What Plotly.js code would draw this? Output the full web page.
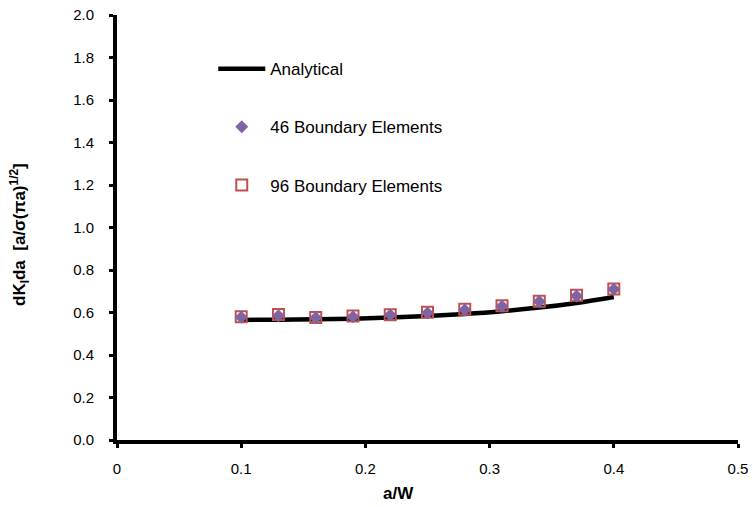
<!DOCTYPE html>
<html>
<head>
<meta charset="utf-8">
<script src="https://cdn.plot.ly/plotly-3.0.1.min.js"></script>
<style>html,body{margin:0;padding:0;background:#fff;}#chart{width:753px;height:507px;}</style>
</head>
<body>
<div id="chart"></div>
<script>
// Data
const analyticalX = [0.10, 0.13, 0.16, 0.19, 0.22, 0.25, 0.28, 0.31, 0.34, 0.37, 0.40];
const analyticalY = [0.565, 0.566, 0.568, 0.571, 0.576, 0.583, 0.593, 0.606, 0.623, 0.645, 0.673];
const be46X = [0.10, 0.13, 0.16, 0.19, 0.22, 0.25, 0.28, 0.31, 0.34, 0.37, 0.40];
const be46Y = [0.578, 0.585, 0.575, 0.580, 0.588, 0.598, 0.612, 0.630, 0.652, 0.678, 0.710];
const be96X = [0.10, 0.13, 0.16, 0.19, 0.22, 0.25, 0.28, 0.31, 0.34, 0.37, 0.40];
const be96Y = [0.580, 0.591, 0.577, 0.583, 0.590, 0.601, 0.615, 0.632, 0.653, 0.681, 0.711];
const xTicks = [0, 0.1, 0.2, 0.3, 0.4, 0.5];
const xTickText = ['0', '0.1', '0.2', '0.3', '0.4', '0.5'];
const yTicks = [0, 0.2, 0.4, 0.6, 0.8, 1.0, 1.2, 1.4, 1.6, 1.8, 2.0];
const yTickText = ['0.0', '0.2', '0.4', '0.6', '0.8', '1.0', '1.2', '1.4', '1.6', '1.8', '2.0'];
const xTitle = '<b>a/W</b>';
const yTitle = '<b>dK<sub>I</sub>da  [a/σ(πa)<sup>1/2</sup>]</b>';

const traces = [
  {x: analyticalX, y: analyticalY, name: 'Analytical', mode: 'lines', type: 'scatter',
   line: {color: '#000000', width: 4.5, shape: 'spline'}, legendrank: 1, legendgroup: 'a'},
  {x: be96X, y: be96Y, name: '96 Boundary Elements', mode: 'markers', type: 'scatter',
   marker: {symbol: 'square-open', size: 11, color: '#C0504D', line: {width: 2, color: '#C0504D'}},
   legendrank: 3, legendgroup: 'c'},
  {x: be46X, y: be46Y, name: '46 Boundary Elements', mode: 'markers', type: 'scatter',
   marker: {symbol: 'diamond', size: 10, color: '#8064A2'}, legendrank: 2, legendgroup: 'b'}
];

const family = '"Liberation Sans", Arial, sans-serif';
const font = {family: family, size: 15, color: '#000'};
const legendFont = {family: family, size: 17, color: '#000'};
const titleFont = {family: family, size: 17, color: '#000'};

const layout = {
  width: 753, height: 507,
  margin: {l: 117, r: 15, t: 15, b: 67, pad: 0},
  paper_bgcolor: '#fff', plot_bgcolor: '#fff',
  font: font,
  showlegend: true,
  legend: {x: 0.155, y: 0.915, xanchor: 'left', yanchor: 'top', bgcolor: 'rgba(0,0,0,0)',
           borderwidth: 0, tracegroupgap: 33, itemwidth: 47, font: legendFont},
  xaxis: {range: [0, 0.5], tickvals: xTicks, ticktext: xTickText, showgrid: false, zeroline: false,
          showline: true, linecolor: '#000', linewidth: 4, ticks: 'outside', ticklen: 4, tickwidth: 3,
          tickcolor: '#000', ticklabelstandoff: 8, tickfont: font},
  yaxis: {range: [0, 2.0], tickvals: yTicks, ticktext: yTickText, showgrid: false, zeroline: false,
          showline: true, linecolor: '#000', linewidth: 4, ticks: 'outside', ticklen: 4, tickwidth: 3,
          tickcolor: '#000', ticklabelstandoff: 12, tickfont: font},
  annotations: [
    {text: xTitle, xref: 'paper', yref: 'paper', x: (398 - 117) / 621, y: (440 - 493) / 425,
     xanchor: 'center', yanchor: 'middle', showarrow: false, font: titleFont},
    {text: yTitle, xref: 'paper', yref: 'paper', x: (20 - 117) / 621, y: (440 - 235) / 425,
     xanchor: 'center', yanchor: 'middle', showarrow: false, textangle: -90, font: titleFont}
  ]
};

Plotly.newPlot('chart', traces, layout, {displayModeBar: false, staticPlot: true});
</script>
</body>
</html>
